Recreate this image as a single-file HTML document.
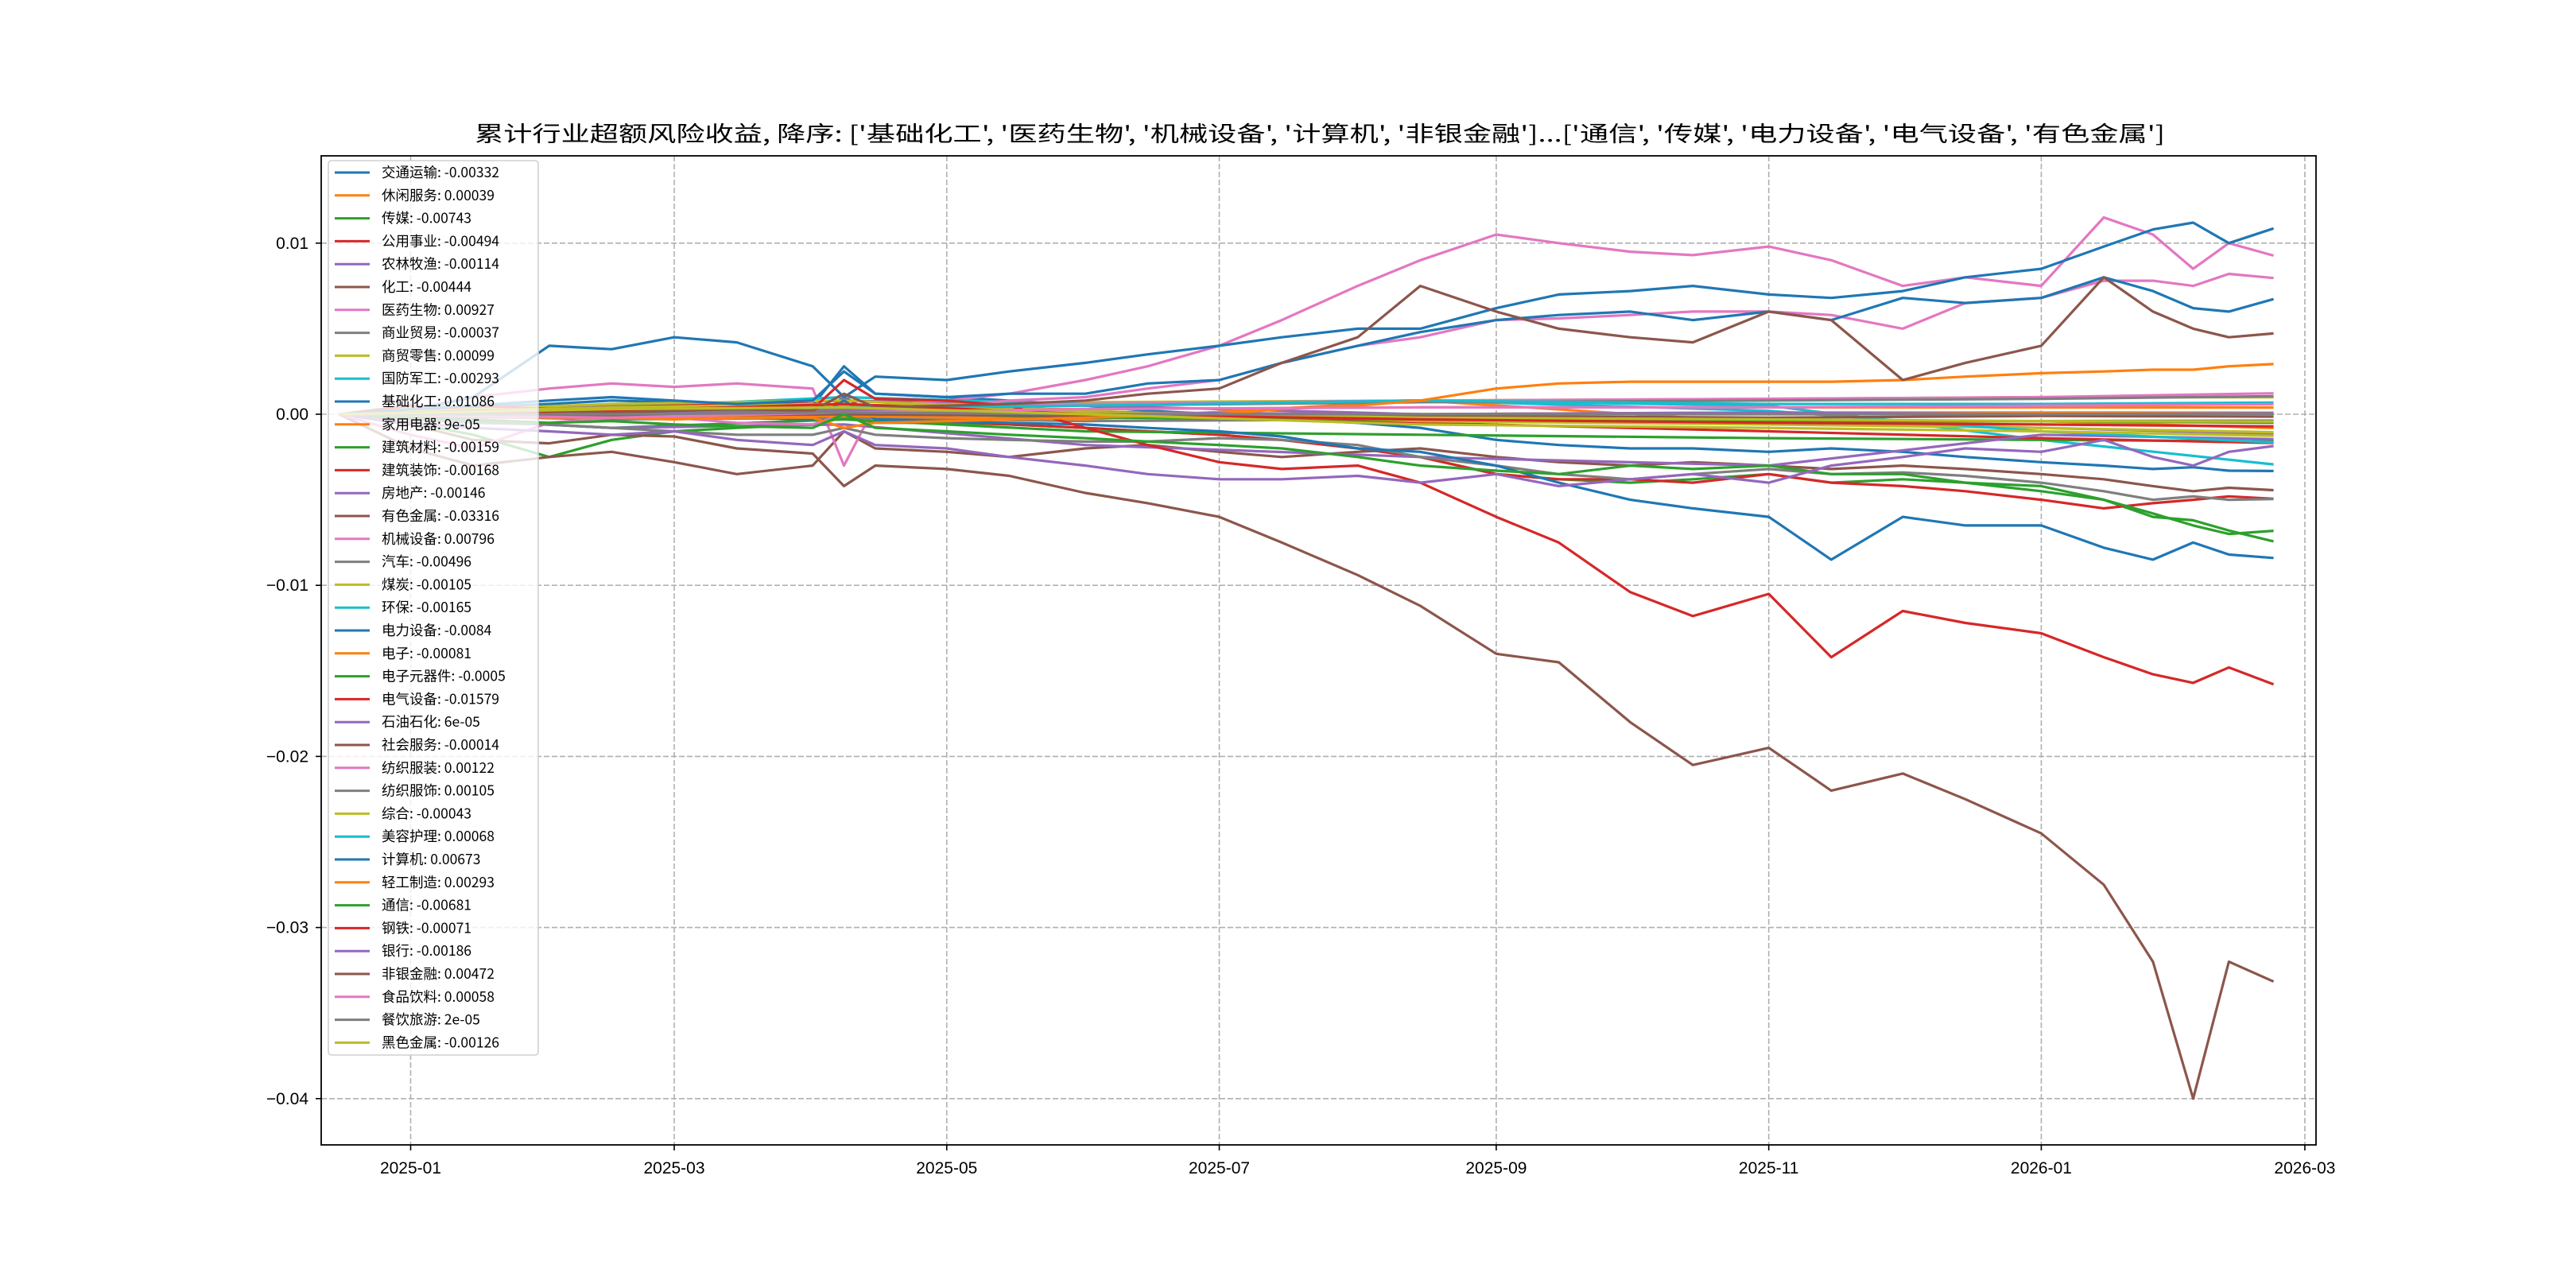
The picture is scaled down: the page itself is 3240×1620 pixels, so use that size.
<!DOCTYPE html>
<html><head><meta charset="utf-8"><style>
html,body{margin:0;padding:0;background:#fff}
svg{display:block;font-family:"Liberation Sans","Noto Sans CJK SC",sans-serif}
.cjk{font-family:"WenQuanYi Zen Hei","Noto Sans CJK SC",sans-serif}
</style></head><body>
<svg id="chart" width="3240" height="1620" viewBox="0 0 3240 1620" xmlns="http://www.w3.org/2000/svg">
<rect x="0" y="0" width="3240" height="1620" fill="#fff"/>
<text class="cjk" x="597" y="178" textLength="2126" lengthAdjust="spacingAndGlyphs" font-size="27" fill="#000">累计行业超额风险收益,  降序: ['基础化工', '医药生物', '机械设备', '计算机', '非银金融']...['通信', '传媒', '电力设备', '电气设备', '有色金属']</text>
<g id="grid"></g>
<g id="plot"></g>
<g id="axes"></g>
<g id="legend"></g>
</svg>
<script>
const fullDates = ["2024-12-16","2025-01-01","2025-01-15","2025-02-01","2025-02-15","2025-03-01","2025-03-15","2025-04-01","2025-04-08","2025-04-15","2025-05-01","2025-05-15","2025-06-01","2025-06-15","2025-07-01","2025-07-15","2025-08-01","2025-08-15","2025-09-01","2025-09-15","2025-10-01","2025-10-15","2025-11-01","2025-11-15","2025-12-01","2025-12-15","2026-01-01","2026-01-15","2026-01-26","2026-02-04","2026-02-12","2026-02-22"];
const sparseDates = ["2024-12-16","2025-02-15","2025-04-08","2025-06-01","2025-08-15","2025-11-01","2026-01-01","2026-02-22"];
const seriesNames = ["交通运输","休闲服务","传媒","公用事业","农林牧渔","化工","医药生物","商业贸易","商贸零售","国防军工","基础化工","家用电器","建筑材料","建筑装饰","房地产","有色金属","机械设备","汽车","煤炭","环保","电力设备","电子","电子元器件","电气设备","石油石化","社会服务","纺织服装","纺织服饰","综合","美容护理","计算机","轻工制造","通信","钢铁","银行","非银金融","食品饮料","餐饮旅游","黑色金属"];
const legendValues = ["-0.00332","0.00039","-0.00743","-0.00494","-0.00114","-0.00444","0.00927","-0.00037","0.00099","-0.00293","0.01086","9e-05","-0.00159","-0.00168","-0.00146","-0.03316","0.00796","-0.00496","-0.00105","-0.00165","-0.0084","-0.00081","-0.0005","-0.01579","6e-05","-0.00014","0.00122","0.00105","-0.00043","0.00068","0.00673","0.00293","-0.00681","-0.00071","-0.00186","0.00472","0.00058","2e-05","-0.00126"];
const yTicks = [0.01,0,-0.01,-0.02,-0.03,-0.04];
const yTickLabels = ["0.01","0.00","\u22120.01","\u22120.02","\u22120.03","\u22120.04"];
const xTicks = ["2025-01-01","2025-03-01","2025-05-01","2025-07-01","2025-09-01","2025-11-01","2026-01-01","2026-03-01"];
const xTickLabels = ["2025-01","2025-03","2025-05","2025-07","2025-09","2025-11","2026-01","2026-03"];

const v交通运输 = [0,0.0002,0.0004,0.0006,0.0008,0.0007,0.0006,0.0005,0.0028,0.0012,0.0010,0.0008,0.0005,0.0002,0.0000,-0.0003,-0.0005,-0.0008,-0.0015,-0.0018,-0.0020,-0.0020,-0.0022,-0.0020,-0.0022,-0.0025,-0.0028,-0.0030,-0.0032,-0.0031,-0.0033,-0.00332];
const v传媒 = [0,-0.0005,-0.0012,-0.0025,-0.0015,-0.0010,-0.0008,-0.0006,-0.0002,-0.0005,-0.0005,-0.0006,-0.0008,-0.0010,-0.0012,-0.0015,-0.0020,-0.0025,-0.0035,-0.0038,-0.0040,-0.0038,-0.0035,-0.0040,-0.0038,-0.0040,-0.0045,-0.0050,-0.0060,-0.0062,-0.0068,-0.00743];
const v公用事业 = [0,0.0005,0.0003,0.0002,-0.0002,0.0000,-0.0002,-0.0003,0.0010,0.0000,-0.0004,-0.0006,-0.0008,-0.0010,-0.0012,-0.0015,-0.0020,-0.0025,-0.0035,-0.0038,-0.0038,-0.0040,-0.0035,-0.0040,-0.0042,-0.0045,-0.0050,-0.0055,-0.0052,-0.0050,-0.0048,-0.00494];
const v化工 = [0,-0.0020,-0.0030,-0.0025,-0.0022,-0.0028,-0.0035,-0.0030,-0.0010,-0.0020,-0.0022,-0.0025,-0.0020,-0.0018,-0.0022,-0.0025,-0.0022,-0.0020,-0.0025,-0.0028,-0.0030,-0.0028,-0.0030,-0.0032,-0.0030,-0.0032,-0.0035,-0.0038,-0.0042,-0.0045,-0.0043,-0.00444];
const v医药生物 = [0,0.0003,0.0010,0.0015,0.0018,0.0016,0.0018,0.0015,-0.0030,0.0005,0.0008,0.0012,0.0020,0.0028,0.0040,0.0055,0.0075,0.0090,0.0105,0.0100,0.0095,0.0093,0.0098,0.0090,0.0075,0.0080,0.0075,0.0115,0.0105,0.0085,0.0100,0.00927];
const v基础化工 = [0,0.0002,0.0010,0.0040,0.0038,0.0045,0.0042,0.0028,0.0010,0.0022,0.0020,0.0025,0.0030,0.0035,0.0040,0.0045,0.0050,0.0050,0.0062,0.0070,0.0072,0.0075,0.0070,0.0068,0.0072,0.0080,0.0085,0.0098,0.0108,0.0112,0.0100,0.01086];
const v有色金属 = [0,-0.0006,-0.0015,-0.0017,-0.0012,-0.0013,-0.0020,-0.0023,-0.0042,-0.0030,-0.0032,-0.0036,-0.0046,-0.0052,-0.0060,-0.0075,-0.0094,-0.0112,-0.0140,-0.0145,-0.0180,-0.0205,-0.0195,-0.0220,-0.0210,-0.0225,-0.0245,-0.0275,-0.0320,-0.0400,-0.0320,-0.03316];
const v机械设备 = [0,-0.0012,-0.0020,-0.0005,-0.0002,-0.0002,-0.0005,-0.0006,0.0000,0.0002,0.0005,0.0008,0.0010,0.0015,0.0020,0.0030,0.0040,0.0045,0.0055,0.0056,0.0058,0.0060,0.0060,0.0058,0.0050,0.0065,0.0068,0.0078,0.0078,0.0075,0.0082,0.00796];
const v汽车 = [0,-0.0003,-0.0005,-0.0006,-0.0008,-0.0010,-0.0012,-0.0012,-0.0008,-0.0012,-0.0014,-0.0015,-0.0016,-0.0016,-0.0014,-0.0015,-0.0018,-0.0025,-0.0030,-0.0035,-0.0038,-0.0035,-0.0032,-0.0035,-0.0034,-0.0036,-0.0040,-0.0045,-0.0050,-0.0048,-0.0050,-0.00496];
const v电力设备 = [0,0.0001,0.0002,0.0001,0.0000,-0.0001,-0.0002,-0.0003,0.0008,-0.0003,-0.0004,-0.0005,-0.0006,-0.0008,-0.0010,-0.0013,-0.0020,-0.0022,-0.0030,-0.0040,-0.0050,-0.0055,-0.0060,-0.0085,-0.0060,-0.0065,-0.0065,-0.0078,-0.0085,-0.0075,-0.0082,-0.0084];
const v电气设备 = [0,0.0003,0.0005,0.0003,0.0002,0.0003,0.0004,0.0003,0.0020,0.0009,0.0008,0.0005,-0.0008,-0.0018,-0.0028,-0.0032,-0.0030,-0.0040,-0.0060,-0.0075,-0.0104,-0.0118,-0.0105,-0.0142,-0.0115,-0.0122,-0.0128,-0.0142,-0.0152,-0.0157,-0.0148,-0.01579];
const v计算机 = [0,0.0003,0.0005,0.0008,0.0010,0.0008,0.0006,0.0008,0.0025,0.0012,0.0010,0.0012,0.0012,0.0018,0.0020,0.0030,0.0040,0.0048,0.0055,0.0058,0.0060,0.0055,0.0060,0.0055,0.0068,0.0065,0.0068,0.0080,0.0072,0.0062,0.0060,0.00673];
const v轻工制造 = [0,0.0000,-0.0001,-0.0002,-0.0002,-0.0003,-0.0002,-0.0002,-0.0008,-0.0005,-0.0004,-0.0003,-0.0002,-0.0001,0.0000,0.0003,0.0005,0.0008,0.0015,0.0018,0.0019,0.0019,0.0019,0.0019,0.0020,0.0022,0.0024,0.0025,0.0026,0.0026,0.0028,0.00293];
const v通信 = [0,-0.0002,-0.0003,-0.0005,-0.0004,-0.0006,-0.0007,-0.0008,0.0000,-0.0008,-0.0010,-0.0012,-0.0014,-0.0016,-0.0018,-0.0020,-0.0025,-0.0030,-0.0033,-0.0035,-0.0030,-0.0032,-0.0030,-0.0035,-0.0035,-0.0040,-0.0042,-0.0050,-0.0058,-0.0065,-0.0070,-0.00681];
const v银行 = [0,-0.0005,-0.0008,-0.0010,-0.0012,-0.0010,-0.0015,-0.0018,-0.0010,-0.0018,-0.0020,-0.0025,-0.0030,-0.0035,-0.0038,-0.0038,-0.0036,-0.0040,-0.0035,-0.0042,-0.0038,-0.0035,-0.0040,-0.0030,-0.0025,-0.0020,-0.0022,-0.0015,-0.0025,-0.0030,-0.0022,-0.00186];
const v非银金融 = [0,0.0001,0.0002,0.0002,0.0001,0.0002,0.0003,0.0002,0.0012,0.0004,0.0005,0.0006,0.0008,0.0012,0.0015,0.0030,0.0045,0.0075,0.0060,0.0050,0.0045,0.0042,0.0060,0.0055,0.0020,0.0030,0.0040,0.0080,0.0060,0.0050,0.0045,0.00472];
const v休闲服务 = [0,0.0002,0.0003,0.0003,0.0004,0.0004,0.0004,0.00039];
const v农林牧渔 = [0,0.0005,0.0008,0.0005,0.0000,-0.0005,-0.0008,-0.00114];
const v商业贸易 = [0,-0.0003,-0.0002,-0.0004,-0.0003,-0.0004,-0.0004,-0.00037];
const v商贸零售 = [0,0.0003,0.0005,0.0007,0.0008,0.0009,0.0010,0.00099];
const v国防军工 = [0,0.0004,0.0010,0.0006,0.0008,0.0005,-0.0015,-0.00293];
const v家用电器 = [0,-0.0002,-0.0001,0.0001,0.0000,0.0001,0.0001,0.00009];
const v建筑材料 = [0,-0.0008,-0.0003,-0.0010,-0.0012,-0.0014,-0.0015,-0.00159];
const v建筑装饰 = [0,0.0004,0.0008,0.0002,-0.0005,-0.0010,-0.0014,-0.00168];
const v房地产 = [0,-0.0008,-0.0006,-0.0018,-0.0025,-0.0030,-0.0012,-0.00146];
const v煤炭 = [0,0.0006,0.0008,0.0002,-0.0004,-0.0006,-0.0008,-0.00105];
const v环保 = [0,0.0002,0.0003,0.0006,0.0008,0.0002,-0.0010,-0.00165];
const v电子 = [0,-0.0002,-0.0001,-0.0003,0.0008,-0.0005,-0.0004,-0.00081];
const v电子元器件 = [0,-0.0001,0.0001,-0.0002,-0.0003,-0.0004,-0.0004,-0.0005];
const v石油石化 = [0,0.0001,0.0002,0.0001,0.0000,0.0001,0.0000,0.00006];
const v社会服务 = [0,-0.0001,0.0000,-0.0001,-0.0001,-0.0002,-0.0001,-0.00014];
const v纺织服装 = [0,0.0003,0.0004,0.0006,0.0008,0.0009,0.0010,0.00122];
const v纺织服饰 = [0,0.0002,0.0003,0.0005,0.0007,0.0008,0.0009,0.00105];
const v综合 = [0,0.0004,0.0006,0.0001,-0.0002,-0.0003,-0.0004,-0.00043];
const v美容护理 = [0,0.0002,0.0004,0.0005,0.0008,0.0006,0.0006,0.00068];
const v钢铁 = [0,0.0002,0.0006,0.0000,-0.0003,-0.0005,-0.0006,-0.00071];
const v食品饮料 = [0,-0.0002,0.0001,0.0003,0.0004,0.0004,0.0005,0.00058];
const v餐饮旅游 = [0,0.0000,0.0001,0.0000,0.0000,0.0000,0.0000,0.00002];
const v黑色金属 = [0,0.0003,0.0004,0.0000,-0.0006,-0.0008,-0.0010,-0.00126];

const seriesValues = [v交通运输,v休闲服务,v传媒,v公用事业,v农林牧渔,v化工,v医药生物,v商业贸易,v商贸零售,v国防军工,v基础化工,v家用电器,v建筑材料,v建筑装饰,v房地产,v有色金属,v机械设备,v汽车,v煤炭,v环保,v电力设备,v电子,v电子元器件,v电气设备,v石油石化,v社会服务,v纺织服装,v纺织服饰,v综合,v美容护理,v计算机,v轻工制造,v通信,v钢铁,v银行,v非银金融,v食品饮料,v餐饮旅游,v黑色金属];

const palette = ["#1f77b4","#ff7f0e","#2ca02c","#d62728","#9467bd","#8c564b","#e377c2","#7f7f7f","#bcbd22","#17becf"];
const NS = "http://www.w3.org/2000/svg";
const AX = {left:404, right:2913, top:196, bottom:1440};
const T0 = Date.UTC(2025,0,1);
function days(s){const p=s.split("-");return (Date.UTC(+p[0],+p[1]-1,+p[2])-T0)/86400000;}
function xScale(s){return 516.5 + days(s)*5.619;}
function yScale(v){return 521 - v*21520;}
function mk(tag, attrs, parent){const e=document.createElementNS(NS,tag);for(const k in attrs)e.setAttribute(k,attrs[k]);parent.appendChild(e);return e;}

const grid=document.getElementById("grid"), plot=document.getElementById("plot"), axes=document.getElementById("axes"), legend=document.getElementById("legend");

xTicks.forEach((d,i)=>{
  const x=xScale(d);
  const g=mk("line",{x1:x,x2:x,y1:AX.top,y2:AX.bottom,stroke:"#b0b0b0","stroke-width":1.6,"stroke-dasharray":"7,3"},grid);
  
  
  const t=mk("line",{x1:x,x2:x,y1:AX.bottom,y2:AX.bottom+7,stroke:"#000","stroke-width":1.6},axes);
  
  
  const l=mk("text",{x:x,y:AX.bottom+36,"text-anchor":"middle","font-size":21,fill:"#000"},axes);
  l.textContent=xTickLabels[i];
  
  
});
yTicks.forEach((v,i)=>{
  const y=yScale(v);
  const g=mk("line",{x1:AX.left,x2:AX.right,y1:y,y2:y,stroke:"#b0b0b0","stroke-width":1.6,"stroke-dasharray":"7,3"},grid);
  
  
  const t=mk("line",{x1:AX.left-7,x2:AX.left,y1:y,y2:y,stroke:"#000","stroke-width":1.6},axes);
  
  
  const l=mk("text",{x:AX.left-16,y:y+7,"text-anchor":"end","font-size":21,fill:"#000"},axes);
  l.textContent=yTickLabels[i];
  
  
});

seriesValues.forEach((vals,i)=>{
  const ds = vals.length===fullDates.length ? fullDates : sparseDates;
  const pts = vals.map((v,j)=>xScale(ds[j]).toFixed(1)+","+yScale(v).toFixed(1)).join(" ");
  const pl=mk("polyline",{points:pts,fill:"none",stroke:palette[i%10],"stroke-width":3.2,"stroke-linejoin":"round"},plot);
  
  
});

const frame=mk("rect",{x:AX.left,y:AX.top,width:AX.right-AX.left,height:AX.bottom-AX.top,fill:"none",stroke:"#000","stroke-width":1.8},axes);



const lb=mk("rect",{x:413,y:202,width:264,height:1125,rx:4,fill:"#fff","fill-opacity":0.8,stroke:"#d0d0d0","stroke-width":1.6},legend);


seriesNames.forEach((n,i)=>{
  const y=217+i*28.8;
  const g=mk("g",{},legend);
  
  
  mk("line",{x1:421,x2:465,y1:y,y2:y,stroke:palette[i%10],"stroke-width":3},g);
  const t=mk("text",{x:480,y:y+6,"font-size":17.5,fill:"#000","class":"cjk"},g);
  t.textContent=n+": "+legendValues[i];
});
</script>
</body></html>
